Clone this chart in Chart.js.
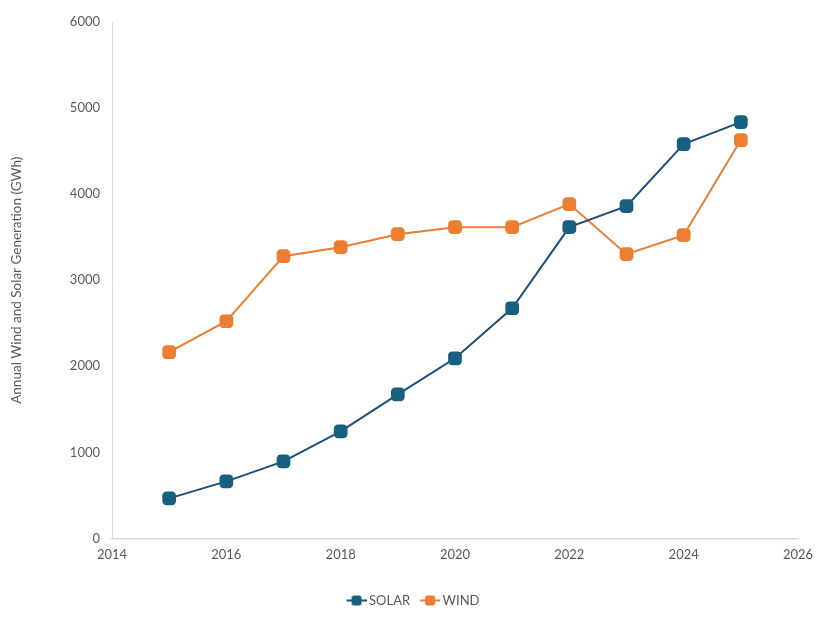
<!DOCTYPE html>
<html>
<head>
<meta charset="utf-8">
<script src="https://cdn.jsdelivr.net/npm/chart.js@4"></script>
<style>
html,body{margin:0;padding:0;background:#fff;}
#wrap{width:826px;height:620px;}
</style>
</head>
<body>
<div id="wrap"><canvas id="c" width="826" height="620"></canvas></div>
<script>
const years = [2015, 2016, 2017, 2018, 2019, 2020, 2021, 2022, 2023, 2024, 2025];
const solar = [465, 663, 895, 1244, 1674, 2093, 2674, 3616, 3860, 4581, 4837];
const wind = [2163, 2523, 3279, 3384, 3535, 3616, 3616, 3884, 3302, 3523, 4628];
const seriesNames = ['SOLAR', 'WIND'];
const xTicks = {min: 2014, max: 2026, step: 2};
const yTicks = {min: 0, max: 6000, step: 1000};

const solarLine = '#1F4E79', solarMark = '#17607F';
const windLine = '#ED7D31', windMark = '#ED7D31';
const textCol = '#595959';

function legendIcon(lineCol, markCol) {
  const c = document.createElement('canvas');
  c.width = 24; c.height = 12;
  const g = c.getContext('2d');
  const ox = 4;
  g.strokeStyle = lineCol; g.lineWidth = 2;
  g.beginPath(); g.moveTo(ox, 6); g.lineTo(ox + 20, 6); g.stroke();
  g.fillStyle = markCol;
  const s = 10, x = ox + 5, y = 1, r = 2.5;
  g.beginPath();
  g.moveTo(x + r, y); g.lineTo(x + s - r, y); g.quadraticCurveTo(x + s, y, x + s, y + r);
  g.lineTo(x + s, y + s - r); g.quadraticCurveTo(x + s, y + s, x + s - r, y + s);
  g.lineTo(x + r, y + s); g.quadraticCurveTo(x, y + s, x, y + s - r);
  g.lineTo(x, y + r); g.quadraticCurveTo(x, y, x + r, y);
  g.fill();
  return c;
}

const toXY = (arr) => years.map((yr, i) => ({x: yr, y: arr[i]}));

new Chart(document.getElementById('c'), {
  type: 'line',
  data: {
    datasets: [
      {label: seriesNames[0], data: toXY(solar), borderColor: solarLine, backgroundColor: solarMark,
       pointBackgroundColor: solarMark, pointBorderColor: solarMark, borderWidth: 2,
       pointStyle: 'rectRounded', pointRadius: 8, pointBorderWidth: 0, pointHoverRadius: 8, tension: 0},
      {label: seriesNames[1], data: toXY(wind), borderColor: windLine, backgroundColor: windMark,
       pointBackgroundColor: windMark, pointBorderColor: windMark, borderWidth: 2,
       pointStyle: 'rectRounded', pointRadius: 8, pointBorderWidth: 0, pointHoverRadius: 8, tension: 0}
    ]
  },
  options: {
    responsive: false,
    animation: false,
    layout: {padding: {left: 0, right: 0, top: 22, bottom: 3}},
    plugins: {
      legend: {
        position: 'bottom',
        labels: {
          usePointStyle: true,
          pointStyleWidth: 16,
          color: textCol,
          font: {family: 'Lato', size: 13},
          padding: 10,
          generateLabels: (chart) => chart.data.datasets.map((d, i) => ({
            text: d.label, fillStyle: d.backgroundColor, strokeStyle: d.borderColor,
            pointStyle: legendIcon(d.borderColor, d.pointBackgroundColor), datasetIndex: i,
            fontColor: textCol, lineWidth: 0, hidden: false
          }))
        }
      },
      tooltip: {enabled: false}
    },
    scales: {
      x: {
        type: 'linear', min: xTicks.min, max: xTicks.max,
        grid: {display: false, drawTicks: false},
        border: {display: true, color: '#D9D9D9', width: 1.5},
        ticks: {stepSize: xTicks.step, color: textCol, font: {family: 'Lato', size: 13}, padding: 9,
                callback: v => String(v)},
        afterFit: (s) => { s.height = s.height + 12; }
      },
      y: {
        min: yTicks.min, max: yTicks.max,
        grid: {display: false, drawTicks: false},
        border: {display: true, color: '#D9D9D9', width: 1},
        ticks: {stepSize: yTicks.step, color: textCol, font: {family: 'Lato', size: 13}, padding: 12,
                callback: v => String(v)},
        title: {display: true, text: 'Annual Wind and Solar Generation (GWh)', color: textCol,
                font: {family: 'Lato', size: 13.5}, padding: {top: 9, bottom: 0}},
        afterFit: (s) => { s.width = 112; }
      },
      yRightSpacer: {
        type: 'linear', position: 'right', display: true,
        grid: {display: false, drawTicks: false},
        border: {display: false},
        ticks: {display: false},
        afterFit: (s) => { s.width = 28; }
      }
    }
  }
});
</script>
</body>
</html>
